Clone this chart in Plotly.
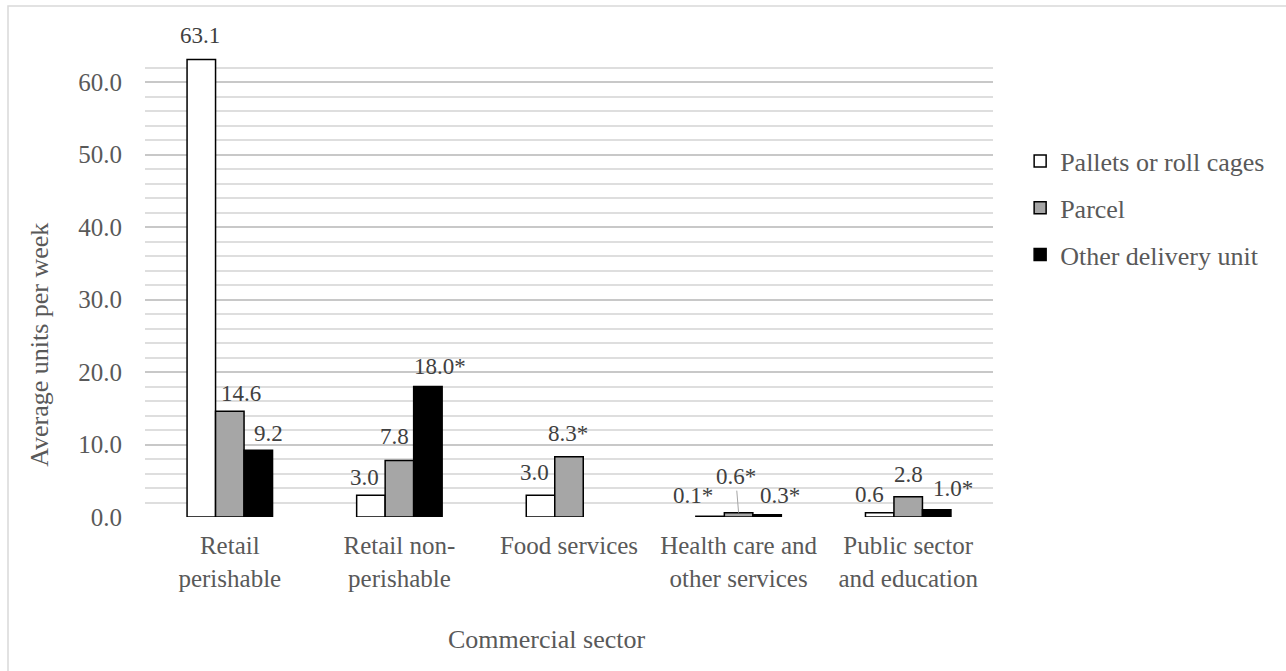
import plotly.graph_objects as go

# ---------------- data ----------------
categories = ["Retail<br>perishable", "Retail non-<br>perishable", "Food services",
              "Health care and<br>other services", "Public sector<br>and education"]
series_names = ["Pallets or roll cages", "Parcel", "Other delivery unit"]
pallets = [63.1, 3.0, 3.0, 0.1, 0.6]
parcel = [14.6, 7.8, 8.3, 0.6, 2.8]
other = [9.2, 18.0, None, 0.3, 1.0]
pallets_lbl = ["63.1", "3.0", "3.0", "0.1*", "0.6"]
parcel_lbl = ["14.6", "7.8", "8.3*", "0.6*", "2.8"]
other_lbl = ["9.2", "18.0*", "", "0.3*", "1.0*"]
y_ticks = [0, 10, 20, 30, 40, 50, 60]

# ---------------- style ----------------
FONT = "Times New Roman"
GREY = "#595959"
LBL = "#404040"
colors = ["#FFFFFF", "#A6A6A6", "#000000"]
BARW = 28.5  # px offset between bars in a group
nudges = [
    [(-1, 24), (-6, 18), (-6, 23), (-17, 21), (-10, 18)],
    [(11, 17.5), (-5, 23.5), (-1, 23.5), (-3, 36), (0, 22)],
    [(10, 17), (12, 20), (0, 20), (13, 19.5), (16, 21)],
]

fig = go.Figure()
values = [pallets, parcel, other]
labels = [pallets_lbl, parcel_lbl, other_lbl]
for i, (name, vals) in enumerate(zip(series_names, values)):
    fig.add_trace(go.Bar(
        x=categories, y=vals, name=name, legendgroup=name,
        marker=dict(color=colors[i], line=dict(color="#000000", width=1.5)),
        hoverinfo="skip",
    ))

annotations = []
for i in range(3):
    for j, cat in enumerate(categories):
        v = values[i][j]
        t = labels[i][j]
        if v is None or not t:
            continue
        dx, dy = nudges[i][j]
        if i == 1 and j == 3:
            annotations.append(dict(
                x=cat, y=v, xref="x", yref="y", text=t, showarrow=True,
                arrowhead=0, arrowwidth=1, arrowcolor="#A6A6A6",
                ax=dx, ay=-dy, standoff=0,
                font=dict(family=FONT, size=23, color=LBL)))
        else:
            annotations.append(dict(
                x=cat, y=v, xref="x", yref="y", text=t, showarrow=False,
                xshift=(i - 1) * BARW + dx, yshift=dy, yanchor="middle",
                font=dict(family=FONT, size=23, color=LBL)))

annotations.append(dict(
    x=-0.1238, y=0.371, xref="paper", yref="paper", text="Average units per week",
    showarrow=False, textangle=-90, xanchor="center", yanchor="middle",
    font=dict(family=FONT, size=26, color=GREY)))
annotations.append(dict(
    x=0.474, y=-0.265, xref="paper", yref="paper", text="Commercial sector",
    showarrow=False, xanchor="center", yanchor="middle",
    font=dict(family=FONT, size=26, color=GREY)))

fig.update_layout(
    width=1286, height=671,
    margin=dict(l=145, r=293, t=53, b=154),
    paper_bgcolor="white", plot_bgcolor="white",
    barmode="group", bargap=0.496, bargroupgap=0,
    legend=dict(x=1.032, y=0.666, xanchor="left", yanchor="middle",
                font=dict(family=FONT, size=26, color=GREY),
                tracegroupgap=10, bgcolor="rgba(0,0,0,0)"),
    annotations=annotations,
    shapes=[dict(type="rect", xref="paper", yref="paper",
                 x0=(8 - 145) / 848, x1=(1300 - 145) / 848,
                 y0=(517 - 690) / 464, y1=(517 - 6) / 464,
                 line=dict(color="#D9D9D9", width=1.5), fillcolor="rgba(0,0,0,0)",
                 layer="below")],
)
fig.update_xaxes(
    showline=False, showgrid=False, zeroline=False,
    ticks="outside", ticklen=6, tickcolor="rgba(0,0,0,0)",
    tickfont=dict(family=FONT, size=25, color=GREY),
)
fig.update_yaxes(
    range=[0, 64], tickvals=y_ticks, tickformat=".1f",
    showgrid=True, gridcolor="#C8C8C8", gridwidth=1.5,
    zeroline=False, showline=False,
    minor=dict(dtick=2, showgrid=True, gridcolor="#DEDEDE", gridwidth=1.5),
    ticks="", ticklabelstandoff=22,
    tickfont=dict(family=FONT, size=25, color=GREY),
)

fig.write_html("out.html")
